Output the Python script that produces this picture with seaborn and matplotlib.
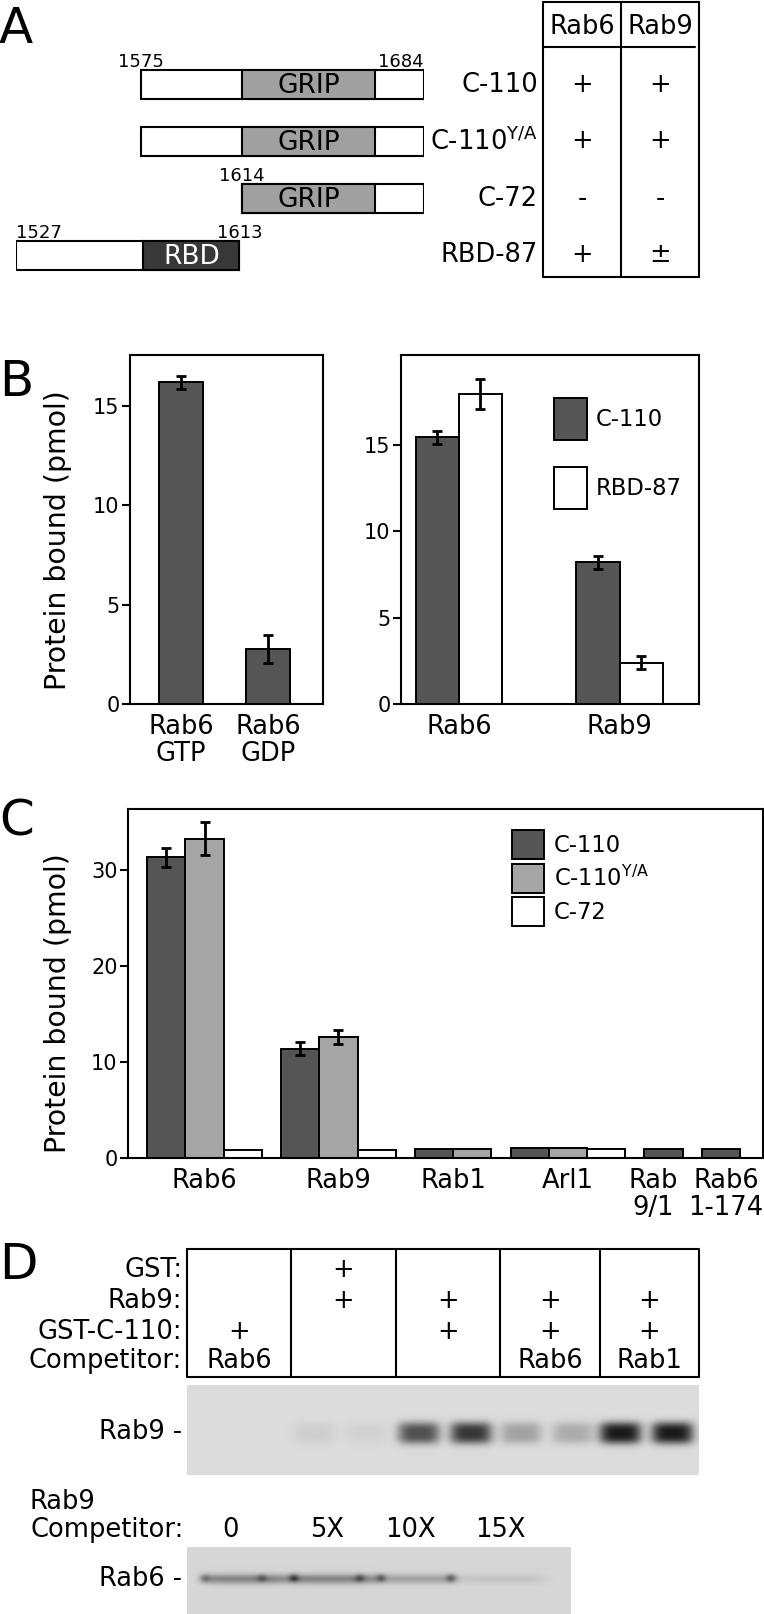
import numpy as np
import pandas as pd
import seaborn as sns
import matplotlib.pyplot as plt
from matplotlib.patches import Patch
from matplotlib.transforms import ScaledTranslation

W, H = 764, 1614

# ---- panel A: constructs (residue numbers) and binding table
constructs = ["C-110", "C-110$^{Y/A}$", "C-72", "RBD-87"]
frag_start = [1575, 1575, 1614, 1527]
frag_end = [1684, 1684, 1684, 1613]
domain = ["GRIP", "GRIP", "GRIP", "RBD"]
dom_start = [1614, 1614, 1614, 1576]
dom_end = [1665, 1665, 1665, 1613]
res_labels = [1575, 1684, 1614, 1527, 1613]
res_label_row = [0, 0, 2, 3, 3]
bind_cols = ["Rab6", "Rab9"]
rab6_bind = ["+", "+", "-", "+"]
rab9_bind = ["+", "+", "-", "±"]

# ---- panel B
b1_cats = ["Rab6\nGTP", "Rab6\nGDP"]
b1_vals = [16.2, 2.75]
b1_err = [0.33, 0.7]
b2_cats = ["Rab6", "Rab9"]
b2_series = ["C-110", "RBD-87"]
b2_c110 = [15.45, 8.2]
b2_c110_err = [0.38, 0.37]
b2_rbd = [17.95, 2.4]
b2_rbd_err = [0.85, 0.38]

# ---- panel C
c_groups = ["Rab6", "Rab9", "Rab1", "Arl1", "Rab\n9/1", "Rab6\n1-174"]
c_series = ["C-110", "C-110$^{Y/A}$", "C-72"]
c_c110 = [31.35, 11.4, 0.9, 1.0, 0.9, 0.9]
c_c110_err = [0.95, 0.7, 0, 0, 0, 0]
c_c110ya = [33.3, 12.6, 0.9, 1.0, None, None]
c_c110ya_err = [1.7, 0.7, 0, 0, 0, 0]
c_c72 = [0.8, 0.8, None, 0.9, None, None]
c_c72_err = [0, 0, 0, 0, 0, 0]

# ---- panel D
d_rows = ["GST:", "Rab9:", "GST-C-110:", "Competitor:"]
d_gst = ["", "+", "", "", ""]
d_rab9 = ["", "+", "+", "+", "+"]
d_gstc110 = ["+", "", "+", "+", "+"]
d_comp = ["Rab6", "", "", "Rab6", "Rab1"]
rab9_band = [[0, 0], [0.07, 0.05], [0.72, 0.85], [0.3, 0.25], [1.0, 1.0]]
comp_levels = ["0", "5X", "10X", "15X"]
rab6_band = [0.32, 0.32, 0.2, 0.07]
rab6_spot_x = [205, 262, 294, 360, 381, 451]
rab6_spot = [0.2, 0.2, 0.35, 0.25, 0.3, 0.3]

DARK = "#555555"
LIGHT = "#a5a5a5"
GRIP = "#a0a0a0"
RBD = "#383838"

sns.set_theme(style="ticks")
plt.rcParams["font.family"] = ["DejaVu Sans"]
plt.rcParams["mathtext.default"] = "regular"
plt.rcParams["axes.linewidth"] = 1.5
plt.rcParams["axes.edgecolor"] = "black"
for k in ["text.color", "axes.labelcolor", "xtick.color", "ytick.color"]:
    plt.rcParams[k] = "black"

fig = plt.figure(figsize=(W / 100, H / 100), dpi=100)


def px(x0, y0, x1, y1):
    return [x0 / W, 1 - y1 / H, (x1 - x0) / W, (y1 - y0) / H]


ov = fig.add_axes([0, 0, 1, 1])
ov.set_axis_off()

FS = 18.5
LFS = 16.3
for letter, y in zip("ABCD", [43, 396, 835, 1279]):
    ov.text(-1, y, letter, fontsize=36, va="baseline", ha="left")

# ================= A =================
axA = fig.add_axes(px(16, 56, 424, 284))
axA.set_xlim(1527, 1684)
axA.set_ylim(3.5, -0.5)
axA.set_axis_off()
rows = np.arange(len(constructs))
axA.barh(rows, np.subtract(frag_end, frag_start), left=frag_start, height=0.51,
         color="white", edgecolor="black", linewidth=1.5)
dcol = [GRIP if d == "GRIP" else RBD for d in domain]
axA.barh(rows, np.subtract(dom_end, dom_start), left=dom_start, height=0.51,
         color=dcol, edgecolor="black", linewidth=1.5)
for r, d, s, e in zip(rows, domain, dom_start, dom_end):
    axA.text((s + e) / 2, r + 0.02, d, ha="center", va="center", fontsize=19,
             color="white" if d == "RBD" else "black")
for v, r, ha in zip(res_labels, res_label_row, ["center", "right", "center", "left", "center"]):
    axA.text(v, r - 0.31, str(v), ha=ha, va="baseline", fontsize=13)

row_y = [84.5 + 57 * i for i in rows]
for name, y, a, b in zip(constructs, row_y, rab6_bind, rab9_bind):
    ov.text(538, y, name, ha="right", va="center", fontsize=FS)
    ov.text(582, y, a, ha="center", va="center", fontsize=FS)
    ov.text(660, y, b, ha="center", va="center", fontsize=FS)
for x in [543, 621, 699]:
    ov.plot([x, x], [2, 277], color="black", lw=1.5)
ov.plot([543, 699], [2, 2], color="black", lw=1.5)
ov.plot([543, 695], [47, 47], color="black", lw=1.5)
ov.plot([543, 699], [277, 277], color="black", lw=1.5)
for name, x in zip(bind_cols, [582, 660]):
    ov.text(x, 27, name, ha="center", va="center", fontsize=FS)


def style_axes(ax):
    ax.tick_params(axis="y", direction="out", length=5.5, width=1.5, labelsize=15, pad=2)
    ax.tick_params(axis="x", length=0, labelsize=FS, pad=7)
    for t in ax.get_xticklabels():
        t.set_linespacing(1.07)
    ax.set_xlabel("")
    for s in ax.spines.values():
        s.set_linewidth(1.5)
        s.set_color("black")


# ================= B =================
axB1 = fig.add_axes(px(130, 355, 323, 704))
sns.barplot(x=b1_cats, y=b1_vals, color=DARK, saturation=1, width=0.506,
            edgecolor="black", linewidth=1.4, errorbar=None, ax=axB1)
axB1.errorbar(range(len(b1_cats)), b1_vals, yerr=b1_err, fmt="none", ecolor="black",
              elinewidth=2, capsize=3.5, capthick=2)
axB1.set_xlim(-0.586, 1.633)
axB1.set_ylim(0, 17.57)
axB1.set_yticks([0, 5, 10, 15])
axB1.set_ylabel("Protein bound (pmol)", fontsize=20.4)
axB1.yaxis.set_label_coords(-0.30, 0.47)
style_axes(axB1)

axB2 = fig.add_axes(px(401, 355, 699, 704))
dfb = pd.DataFrame({
    "target": b2_cats * 2,
    "construct": [b2_series[0]] * 2 + [b2_series[1]] * 2,
    "pmol": b2_c110 + b2_rbd,
})
sns.barplot(data=dfb, x="target", y="pmol", hue="construct", hue_order=b2_series,
            palette={b2_series[0]: DARK, b2_series[1]: "white"}, saturation=1,
            width=0.536, edgecolor="black", linewidth=1.4, errorbar=None,
            legend=False, ax=axB2)
for cont, vals, errs in zip(axB2.containers, [b2_c110, b2_rbd], [b2_c110_err, b2_rbd_err]):
    xs = [b.get_x() + b.get_width() / 2 for b in cont]
    axB2.errorbar(xs, vals, yerr=errs, fmt="none", ecolor="black",
                  elinewidth=2, capsize=3.5, capthick=2)
axB2.set_xlim(-0.361, 1.495)
axB2.set_ylim(0, 20.2)
axB2.set_yticks([0, 5, 10, 15])
axB2.set_ylabel("")
style_axes(axB2)
fs_px = LFS * 100 / 72
hb = [Patch(facecolor=c, edgecolor="black", linewidth=1.4) for c in [DARK, "white"]]
axB2.legend(hb, b2_series, loc="upper left", bbox_to_anchor=(554 / W, 1 - 398 / H),
            bbox_transform=fig.transFigure, frameon=False, borderpad=0, borderaxespad=0,
            handlelength=33 / fs_px, handleheight=2.45, labelspacing=1.22,
            handletextpad=0.4, fontsize=LFS)

# ================= C =================
axC = fig.add_axes(px(128, 809, 763, 1158))
series_vals = [c_c110, c_c110ya, c_c72]
series_errs = [c_c110_err, c_c110ya_err, c_c72_err]
recs = []
centers = []
cursor = 0.5
for gi in range(len(c_groups)):
    xs = []
    for s, vals, errs in zip(c_series, series_vals, series_errs):
        if vals[gi] is None:
            continue
        recs.append({"pos": cursor + 0.5, "pmol": vals[gi], "construct": s, "err": errs[gi]})
        xs.append(cursor + 0.5)
        cursor += 1
    centers.append(np.mean(xs))
    cursor += 0.5
dfc = pd.DataFrame(recs)
cpal = {c_series[0]: DARK, c_series[1]: LIGHT, c_series[2]: "white"}
sns.barplot(data=dfc, x="pos", y="pmol", hue="construct", hue_order=c_series,
            palette=cpal, saturation=1, native_scale=True, dodge=False, width=1.0,
            edgecolor="black", linewidth=1.4, errorbar=None, legend=False, ax=axC)
de = dfc[dfc["err"] > 0]
axC.errorbar(de["pos"], de["pmol"], yerr=de["err"], fmt="none", ecolor="black",
             elinewidth=2, capsize=3.5, capthick=2)
axC.set_xlim(0, cursor + 0.1)
axC.set_ylim(0, 36.4)
axC.set_yticks([0, 10, 20, 30])
axC.set_xticks(centers)
axC.set_xticklabels(c_groups)
axC.set_ylabel("Protein bound (pmol)", fontsize=20.4)
axC.yaxis.set_label_coords(-0.088, 0.444)
style_axes(axC)
# the two narrow right-hand labels sit slightly apart, as in the source figure
for t, dx in zip(axC.get_xticklabels()[-2:], [-10, 5]):
    t.set_transform(t.get_transform() + ScaledTranslation(dx / 100, 0, fig.dpi_scale_trans))
hc = [Patch(facecolor=cpal[s], edgecolor="black", linewidth=1.4) for s in c_series]
axC.legend(hc, c_series, loc="upper left", bbox_to_anchor=(512 / W, 1 - 830 / H),
           bbox_transform=fig.transFigure, frameon=False, borderpad=0, borderaxespad=0,
           handlelength=32 / fs_px, handleheight=1.594, labelspacing=0.2,
           handletextpad=0.42, fontsize=LFS)

# ================= D =================
col_edges = [187, 291, 396, 500, 600, 699]
col_mid = [(a + b) / 2 for a, b in zip(col_edges[:-1], col_edges[1:])]
ov.plot([187, 699, 699, 187, 187], [1249, 1249, 1377, 1377, 1249], color="black", lw=1.5)
for x in col_edges[1:-1]:
    ov.plot([x, x], [1249, 1377], color="black", lw=1.5)
d_y = [1270, 1301, 1332, 1361]
for lab, y, entries in zip(d_rows, d_y, [d_gst, d_rab9, d_gstc110, d_comp]):
    ov.text(182, y, lab, ha="right", va="center", fontsize=FS)
    for x, e in zip(col_mid, entries):
        if e:
            ov.text(x, y, e, ha="center", va="center", fontsize=FS)


def blot(x0, x1, y0, y1, bg):
    X, Y = np.meshgrid(np.arange(x0, x1) + 0.5, np.arange(y0, y1) + 0.5)
    return X, Y, np.full(X.shape, bg)


# Rab9 blot
X, Y, img = blot(187, 699, 1385, 1475, 0.86)
for xm, (a, b) in zip(col_mid, rab9_band):
    for off, val in zip([-29, 23], [a, b]):
        img -= 0.76 * val * np.exp(-np.abs((X - xm - off) / 21) ** 4) * np.exp(-np.abs((Y - 1433) / 11) ** 3)
ov.imshow(img, extent=[187, 699, 1475, 1385], cmap="gray", vmin=0, vmax=1,
          aspect="auto", interpolation="bilinear")
ov.text(182, 1432, "Rab9 -", ha="right", va="center", fontsize=FS)

# Rab6 blot
X, Y, img = blot(187, 571, 1547, 1614, 0.84)
for xc, val in zip([245, 331, 415, 503], rab6_band):
    img -= val * np.exp(-np.abs((X - xc) / 44) ** 8) * np.exp(-((Y - 1579) / 5) ** 2)
for xc, val in zip(rab6_spot_x, rab6_spot):
    img -= val * np.exp(-((X - xc) / 5) ** 2) * np.exp(-((Y - 1578) / 4) ** 2)
ov.imshow(img, extent=[187, 571, 1614, 1547], cmap="gray", vmin=0, vmax=1,
          aspect="auto", interpolation="bilinear")
ov.text(182, 1579, "Rab6 -", ha="right", va="center", fontsize=FS)
ov.text(30, 1502, "Rab9", ha="left", va="center", fontsize=FS)
ov.text(30, 1530, "Competitor:", ha="left", va="center", fontsize=FS)
for lab, x in zip(comp_levels, [231, 327, 410, 500]):
    ov.text(x, 1530, lab, ha="center", va="center", fontsize=FS)

ov.set_xlim(0, W)
ov.set_ylim(H, 0)

fig.savefig("out.png", dpi=100)
